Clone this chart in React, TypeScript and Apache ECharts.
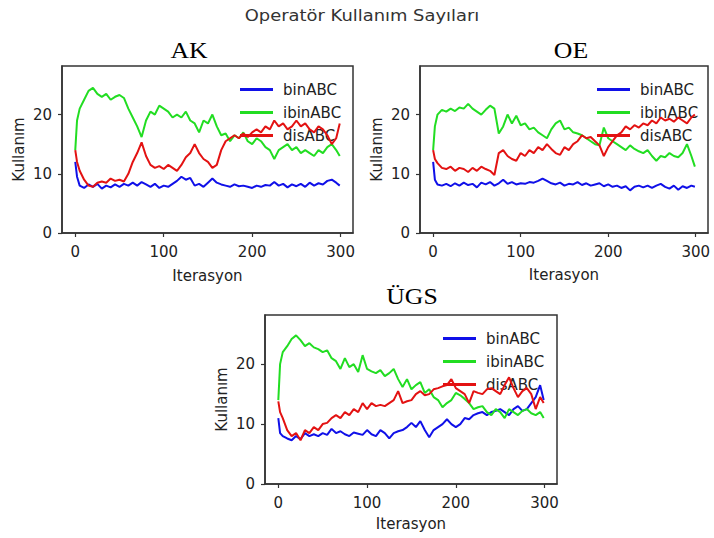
import React, { useEffect, useRef } from "react";
import * as echarts from "echarts";

const iterations = [
  0, 2, 5, 10, 15, 20, 25, 30, 35, 40,
  45, 50, 55, 60, 65, 70, 75, 80, 85, 90,
  95, 100, 105, 110, 115, 120, 125, 130, 135, 140,
  145, 150, 155, 160, 165, 170, 175, 180, 185, 190,
  195, 200, 205, 210, 215, 220, 225, 230, 235, 240,
  245, 250, 255, 260, 265, 270, 275, 280, 285, 290,
  295, 299,
];

// AK
const akBin = [
  12, 9.5, 8, 7.6, 8.2, 7.8, 8.3, 7.5, 8, 7.7,
  8.2, 7.8, 8.3, 8, 8.5, 8, 8.6, 8.2, 7.8, 8.3,
  7.6, 8, 7.8, 8.3, 8.8, 9.5, 9, 9.3, 8, 8.3,
  7.8, 8.5, 9.2, 8.5, 8.2, 8, 7.8, 8.2, 7.9, 8,
  7.8, 7.6, 8, 7.8, 8.1, 8, 8.6, 8, 8.3, 7.7,
  8.2, 7.9, 8.3, 7.8, 8.5, 8, 8.4, 8.2, 8.8, 9,
  8.5, 8,
];
const akIbin = [
  14, 19, 21, 22.5, 24, 24.5, 23.5, 23, 23.5, 22.5,
  23, 23.3, 22.8, 21, 19.5, 18, 16.2, 19, 20.5, 20,
  21.5, 21, 20.5, 19.5, 20, 19.5, 20.5, 19, 18.5, 17,
  19, 18.5, 20, 18, 16.5, 16.8, 15.5, 16.5, 16, 17,
  15.5, 15, 16, 15.5, 14.5, 14, 12.5, 14, 14.5, 15,
  14, 14.5, 13.5, 14, 13.5, 13, 14, 13.5, 14.5, 15,
  14, 13,
];
const akDis = [
  14, 12, 10.5, 9, 8, 7.8, 8.5, 8.7, 8.5, 9.2,
  8.8, 9, 8.7, 10, 12, 13.5, 15.3, 13, 11.5, 11,
  11.3, 10.8, 11.5, 11, 10.5, 11.5, 12.8, 13.5, 15, 13.5,
  12.5, 12, 11, 11.5, 14, 15.5, 16, 16.5, 16, 16.8,
  16.2, 17, 17.5, 17, 18, 17.5, 19, 18, 18.5, 17.5,
  18, 19, 18, 18.5, 17.5, 17, 18, 17.5, 16.5, 15,
  16, 18.5,
];

// OE
const oeBin = [
  12, 9, 8.2, 8, 8.3, 7.9, 8.4, 8, 8.5, 8.1,
  8.3, 7.7, 8.5, 8.2, 8.6, 8, 8.4, 9, 8.3, 8.6,
  8.2, 8.4, 8.3, 8.6, 8.5, 8.8, 9.2, 8.8, 8.4, 8.2,
  8.5, 8, 8.3, 8.2, 8.6, 8.1, 8.4, 8, 8.2, 8.4,
  7.9, 8.2, 7.8, 8, 7.6, 7.9, 7.2, 7.8, 8, 7.7,
  8, 7.6, 8, 8.3, 7.8, 7.5, 8, 7.3, 7.9, 7.6,
  8, 7.8,
];
const oeIbin = [
  14, 18, 20, 20.8, 20.5, 21, 20.6, 21.2, 21, 21.8,
  21, 20.5, 20, 20.8, 21.5, 21, 16.8, 18, 20, 18.5,
  19.8, 18.2, 18.5, 17.5, 17.8, 17, 16.5, 16, 17.5, 18.5,
  19, 17.5, 17.8, 17, 16.8, 16.5, 16, 15.5, 15, 14.8,
  17.8, 16, 15.5, 15, 14.5, 14, 14.8, 14.2, 13.8, 13.5,
  14, 13, 12.2, 13, 12.8, 13.5, 13, 12.8, 13.5, 15,
  13, 11.2,
];
const oeDis = [
  14, 12.5, 11.8, 11, 10.8, 11.2, 10.5, 11, 10.8, 10.3,
  11, 10.5, 11.2, 10.8, 10.5, 9.8, 13.5, 14, 13, 12.5,
  12.2, 13.5, 13, 14, 13.5, 14.5, 14, 15, 14.2, 13.5,
  13.2, 14.5, 14, 15, 15.5, 16.5, 16, 16.2, 15.5, 14.8,
  13, 14.5, 15.5, 16.5, 17, 18, 17.5, 18.2, 17.8, 18.5,
  18.2, 19, 18.5, 19.5, 19, 19.3, 18.8, 19.5, 19, 18.5,
  19.5, 20,
];

// ÜGS
const ugsBin = [
  11, 8.5, 8, 7.6, 7.3, 8, 7.5, 8.5, 8, 8.3,
  8, 8.5, 8.2, 9.2, 8.5, 8.8, 8.3, 8, 8.6, 8.4,
  8.2, 9, 8.3, 8, 9, 8.5, 7.6, 8.5, 8.8, 9,
  9.5, 10.2, 9.5, 10.5, 9, 7.8, 9, 9.5, 10, 10.8,
  10, 9.5, 10, 11, 10.8, 11.5, 11.8, 12, 11.5, 12,
  12.2, 12.5, 12, 11.5, 12.5, 13, 12.2, 12.5, 13.5, 14.5,
  16.5, 14,
];
const ugsIbin = [
  14, 20, 22, 23, 24.2, 24.8, 24, 23, 23.5, 22.8,
  22.5, 22, 22.3, 21, 20.5, 19.2, 21, 19.5, 20, 18.7,
  21.5, 19.2, 18.8, 18.5, 19, 18, 18.5, 19.2, 17.5, 16.2,
  17.5, 15.8, 16.5, 17, 15.2, 15.8, 14.5, 14, 12.8, 13.5,
  14, 15.2, 14.8, 14.2, 13.5, 12.5, 12.8, 13, 12, 11.5,
  12.5, 12, 11, 12.5, 12, 11.5, 12.2, 12.5, 11.8, 11.5,
  12, 11,
];
const ugsDis = [
  13.8, 12, 11, 9, 8, 8.5, 7.3, 9, 8.5, 9.5,
  9, 10, 10.2, 11, 11.5, 11, 12, 11.5, 12.5, 12,
  13.5, 12.5, 13.5, 13, 13.2, 13, 13.5, 14, 15.5, 13.5,
  13.8, 14, 15, 15.5, 14.8, 15, 15.8, 16, 16.3, 16.5,
  17.5, 16, 15.5, 15, 13.5, 15.5, 15.2, 15, 15.8, 16,
  15.5, 15, 16.5, 17.8, 16, 14.5, 15.5, 16, 15, 12.5,
  14.5, 13.5,
];

const seriesNames = ["binABC", "ibinABC", "disABC"];
const panelTitles = ["AK", "OE", "ÜGS"];
const mainTitle = "Operatör Kullanım Sayıları";
const xAxisName = "Iterasyon";
const yAxisName = "Kullanım";
const xTicks = [0, 100, 200, 300];
const yTicks = [0, 10, 20];
const panelData = [
  [akBin, akIbin, akDis],
  [oeBin, oeIbin, oeDis],
  [ugsBin, ugsIbin, ugsDis],
];

// layout / style
const colors = ["#1010e8", "#22dd22", "#e31212"];
const grids = [
  { left: 62, top: 66, width: 291, height: 167 },
  { left: 420, top: 66, width: 288, height: 167 },
  { left: 265, top: 315, width: 292, height: 169 },
];
const titlePos = [
  { x: 189, y: 50 },
  { x: 571, y: 50 },
  { x: 412, y: 296 },
];
const legendPos = [
  { left: 235, top: 77 },
  { left: 592, top: 77 },
  { left: 438, top: 326 },
];
const xNameGap = [35, 34, 32];
const SANS = "'DejaVu Sans', sans-serif";
const SERIF = "'Liberation Serif', 'Times New Roman', serif";
const INK = "#222";
const FS = 15;

export default function App() {
  const ref = useRef<HTMLDivElement>(null);
  useEffect(() => {
    if (!ref.current) return;
    const chart = echarts.init(ref.current, undefined, { renderer: "svg" });

    const xAxes: any[] = [];
    const yAxes: any[] = [];
    const series: any[] = [];
    const legends: any[] = [];
    const graphics: any[] = [
      {
        type: "text",
        x: 362,
        y: 15,
        scaleX: 1.12,
        style: {
          text: mainTitle,
          font: `16px ${SANS}`,
          fill: "#333",
          align: "center",
          verticalAlign: "middle",
        },
      },
    ];

    grids.forEach((g, i) => {
      xAxes.push({
        type: "value",
        gridIndex: i,
        min: -15,
        max: 314,
        name: xAxisName,
        nameLocation: "middle",
        nameGap: xNameGap[i],
        nameTextStyle: { color: INK, fontSize: FS, fontFamily: SANS },
        axisLine: { show: true, onZero: false, lineStyle: { color: "#333", width: 1.5 } },
        axisTick: { show: true, length: 4, customValues: xTicks, lineStyle: { color: "#333", width: 1.2 } },
        axisLabel: { show: true, customValues: xTicks, margin: 11, color: INK, fontSize: FS, fontFamily: SANS },
        splitLine: { show: false },
      });
      yAxes.push({
        type: "value",
        gridIndex: i,
        min: 0,
        max: 28.2,
        name: yAxisName,
        nameLocation: "middle",
        nameGap: 36,
        nameTextStyle: { color: INK, fontSize: FS, fontFamily: SANS },
        axisLine: { show: true, onZero: false, lineStyle: { color: "#333", width: 1.5 } },
        axisTick: { show: true, length: 4, customValues: yTicks, lineStyle: { color: "#333", width: 1.2 } },
        axisLabel: { show: true, customValues: yTicks, margin: 10, color: INK, fontSize: FS, fontFamily: SANS },
        splitLine: { show: false },
      });
      panelData[i].forEach((arr, k) => {
        series.push({
          type: "line",
          name: seriesNames[k],
          xAxisIndex: i,
          yAxisIndex: i,
          data: iterations.map((x, j) => [x, arr[j]]),
          symbol: "none",
          showSymbol: false,
          color: colors[k],
          lineStyle: { color: colors[k], width: 2 },
          z: 2 + k,
        });
      });
      legends.push({
        left: legendPos[i].left,
        top: legendPos[i].top,
        orient: "vertical",
        data: seriesNames.map((n) => ({ name: n, icon: "rect" })),
        selectedMode: false,
        itemWidth: 33,
        itemHeight: 3,
        itemGap: 8,
        textStyle: { color: INK, fontSize: FS, fontFamily: SANS, lineHeight: 14, padding: [0, 0, 0, 5] },
      });
      graphics.push({
        type: "text",
        x: titlePos[i].x,
        y: titlePos[i].y,
        scaleX: 1.12,
        style: {
          text: panelTitles[i],
          font: `23px ${SERIF}`,
          fill: "#000",
          align: "center",
          verticalAlign: "middle",
        },
      });
    });

    chart.setOption({
      animation: false,
      backgroundColor: "#fff",
      grid: grids.map((g) => ({
        ...g,
        show: true,
        borderColor: "#333",
        borderWidth: 1.5,
        backgroundColor: "transparent",
        containLabel: false,
      })),
      xAxis: xAxes,
      yAxis: yAxes,
      legend: legends,
      series,
      graphic: graphics,
    });
    return () => chart.dispose();
  }, []);
  return (
    <div
      ref={ref}
      style={{ position: "absolute", left: 0, top: 0, width: 714, height: 538 }}
    />
  );
}
